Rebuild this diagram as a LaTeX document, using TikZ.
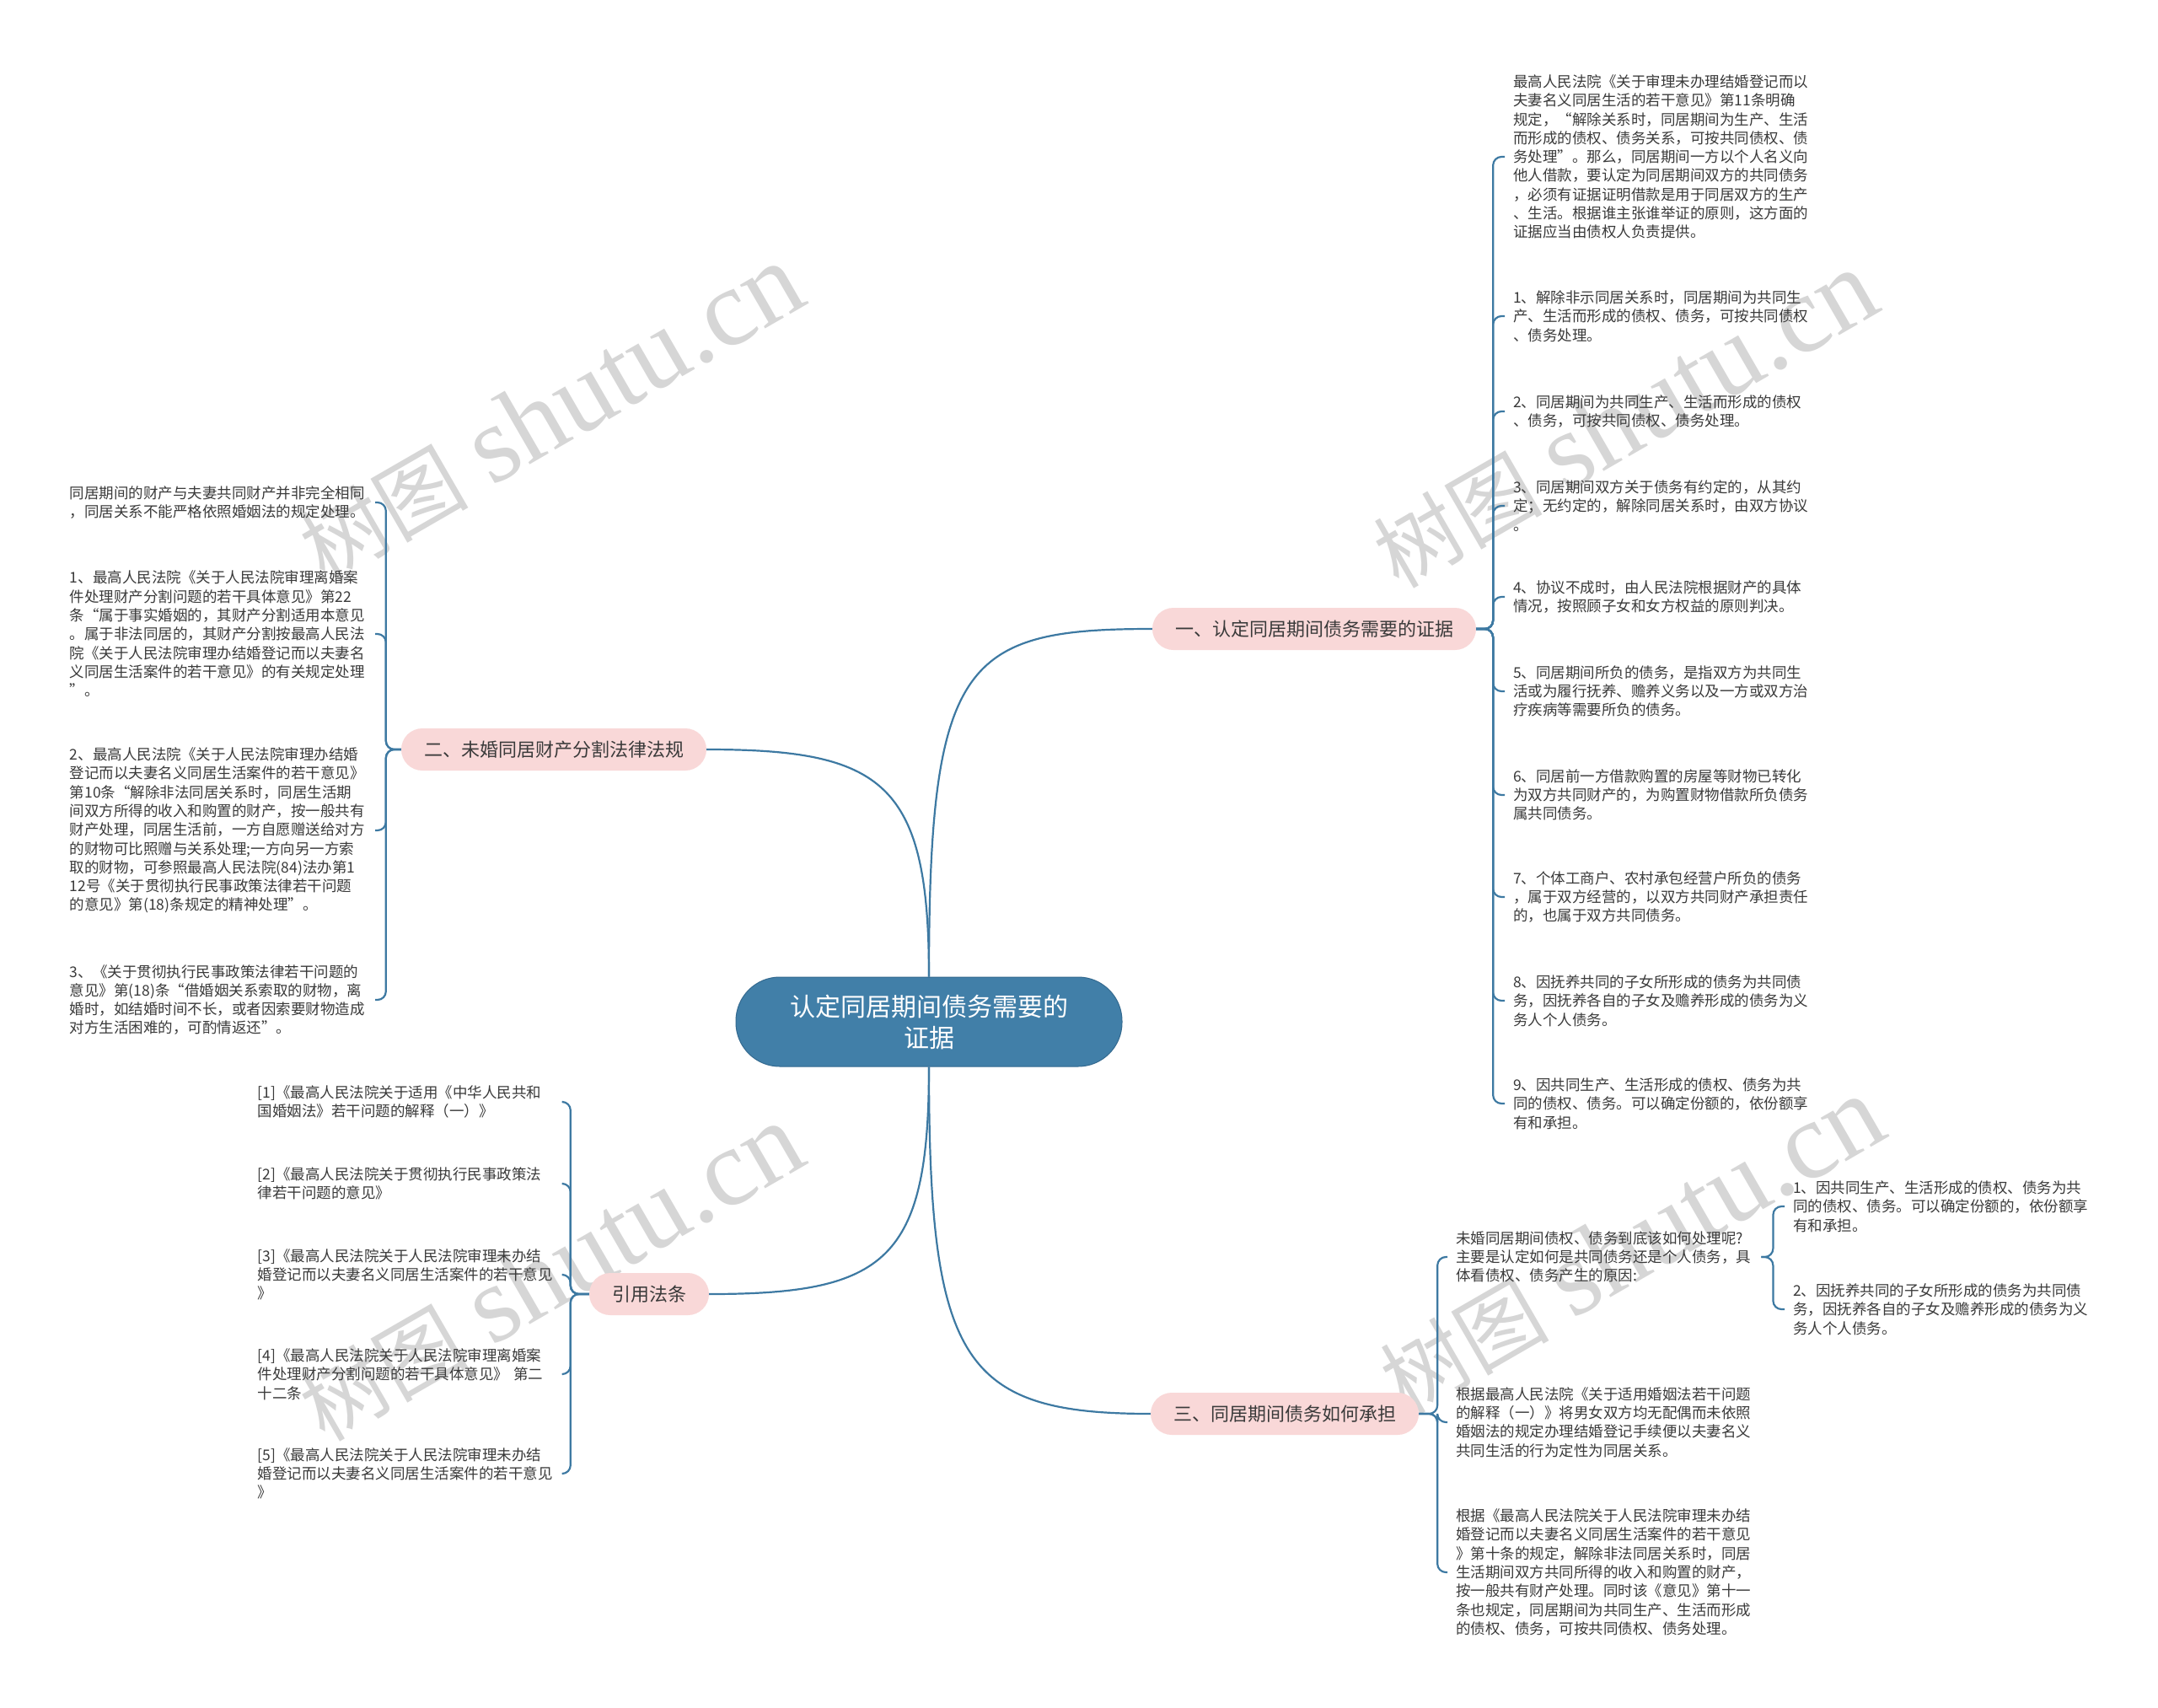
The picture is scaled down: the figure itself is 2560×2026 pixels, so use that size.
\documentclass[tikz,border=0pt]{standalone}
\usepackage{fontspec}
\setmainfont{Noto Sans CJK SC}
\newfontfamily\wmlatin{Liberation Serif}
\newfontfamily\wmcjk{Noto Sans CJK SC}
\definecolor{linec}{HTML}{3D79A2}
\definecolor{rootfill}{HTML}{417FA8}
\definecolor{rootdraw}{HTML}{33698F}
\definecolor{pinkfill}{HTML}{F9D8D8}
\definecolor{leaftext}{HTML}{3A3A3A}
\definecolor{wmgray}{HTML}{D6D6D6}
\newcommand{\wmtext}{{\wmcjk\fontsize{100}{110}\selectfont 树图}\hspace{28pt}{\wmlatin\fontsize{130}{140}\selectfont shutu.cn}}
\tikzset{
  conn/.style={draw=linec, line width=2.2pt, rounded corners=10pt},
  rootnode/.style={fill=rootfill, draw=rootdraw, line width=1pt, rounded corners=52pt,
    minimum width=458pt, minimum height=106pt, text=white,
    font=\fontsize{30}{37}\selectfont, align=center},
  branchnode/.style={fill=pinkfill, draw=none, rounded corners=25pt, minimum height=50pt,
    inner xsep=27pt, text=leaftext, font=\fontsize{22}{26}\selectfont},
  leafnode/.style={text=leaftext, font=\fontsize{17.5}{22.3}\selectfont, align=left,
    text width=352pt, inner xsep=10pt, inner ysep=3pt},
  wmark/.style={text=wmgray, rotate=30, inner sep=0pt}
}
\begin{document}
\begin{tikzpicture}[x=1pt,y=-1pt]
\useasboundingbox[fill=white] (0,0) rectangle (2560,2026);

% watermarks
\node[wmark] (wm1) at (653,490) {\wmtext};
\node[wmark] (wm2) at (1927,498) {\wmtext};
\node[wmark] (wm3) at (653,1510) {\wmtext};
\node[wmark] (wm4) at (1935,1478) {\wmtext};

% root and branches
\node[rootnode] (root) at (1102,1212) {认定同居期间债务需要的\\证据};
\node[branchnode] (br1) at (1559,746) {一、认定同居期间债务需要的证据};
\node[branchnode] (br2) at (657,889) {二、未婚同居财产分割法律法规};
\node[branchnode] (br3) at (770,1535) {引用法条};
\node[branchnode] (br4) at (1524,1677) {三、同居期间债务如何承担};

\draw[conn] (root.north) .. controls +(0,-375) and +(-223,0) .. (br1.west);
\draw[conn] (root.north) .. controls +(0,-230) and +(210,0) .. (br2.east);
\draw[conn] (root.south) .. controls +(0,230) and +(210,0) .. (br3.east);
\draw[conn] (root.south) .. controls +(0,350) and +(-223,0) .. (br4.west);

% branch 1 children
\node[leafnode, anchor=west] (r0) at (1785,186) {最高人民法院《关于审理未办理结婚登记而以\\夫妻名义同居生活的若干意见》第11条明确\\规定，“解除关系时，同居期间为生产、生活\\而形成的债权、债务关系，可按共同债权、债\\务处理”。那么，同居期间一方以个人名义向\\他人借款，要认定为同居期间双方的共同债务\\，必须有证据证明借款是用于同居双方的生产\\、生活。根据谁主张谁举证的原则，这方面的\\证据应当由债权人负责提供。};
\node[leafnode, anchor=west] (r1) at (1785,375) {1、解除非示同居关系时，同居期间为共同生\\产、生活而形成的债权、债务，可按共同债权\\、债务处理。};
\node[leafnode, anchor=west] (r2) at (1785,488) {2、同居期间为共同生产、生活而形成的债权\\、债务，可按共同债权、债务处理。};
\node[leafnode, anchor=west] (r3) at (1785,600) {3、同居期间双方关于债务有约定的，从其约\\定；无约定的，解除同居关系时，由双方协议\\。};
\node[leafnode, anchor=west] (r4) at (1785,708) {4、协议不成时，由人民法院根据财产的具体\\情况，按照顾子女和女方权益的原则判决。};
\node[leafnode, anchor=west] (r5) at (1785,820) {5、同居期间所负的债务，是指双方为共同生\\活或为履行抚养、赡养义务以及一方或双方治\\疗疾病等需要所负的债务。};
\node[leafnode, anchor=west] (r6) at (1785,943) {6、同居前一方借款购置的房屋等财物已转化\\为双方共同财产的，为购置财物借款所负债务\\属共同债务。};
\node[leafnode, anchor=west] (r7) at (1785,1064) {7、个体工商户、农村承包经营户所负的债务\\，属于双方经营的，以双方共同财产承担责任\\的，也属于双方共同债务。};
\node[leafnode, anchor=west] (r8) at (1785,1187) {8、因抚养共同的子女所形成的债务为共同债\\务，因抚养各自的子女及赡养形成的债务为义\\务人个人债务。};
\node[leafnode, anchor=west] (r9) at (1785,1309) {9、因共同生产、生活形成的债权、债务为共\\同的债权、债务。可以确定份额的，依份额享\\有和承担。};
\foreach \n in {r0,r1,r2,r3,r4,r5,r6,r7,r8,r9}
  \draw[conn] (br1.east) -- ++(20,0) |- (\n.west);

% branch 2 children
\node[leafnode, anchor=east] (l0) at (445,596) {同居期间的财产与夫妻共同财产并非完全相同\\，同居关系不能严格依照婚姻法的规定处理。};
\node[leafnode, anchor=east] (l1) at (445,752) {1、最高人民法院《关于人民法院审理离婚案\\件处理财产分割问题的若干具体意见》第22\\条“属于事实婚姻的，其财产分割适用本意见\\。属于非法同居的，其财产分割按最高人民法\\院《关于人民法院审理办结婚登记而以夫妻名\\义同居生活案件的若干意见》的有关规定处理\\”。};
\node[leafnode, anchor=east] (l2) at (445,985) {2、最高人民法院《关于人民法院审理办结婚\\登记而以夫妻名义同居生活案件的若干意见》\\第10条“解除非法同居关系时，同居生活期\\间双方所得的收入和购置的财产，按一般共有\\财产处理，同居生活前，一方自愿赠送给对方\\的财物可比照赠与关系处理;一方向另一方索\\取的财物，可参照最高人民法院(84)法办第1\\12号《关于贯彻执行民事政策法律若干问题\\的意见》第(18)条规定的精神处理”。};
\node[leafnode, anchor=east] (l3) at (445,1186) {3、《关于贯彻执行民事政策法律若干问题的\\意见》第(18)条“借婚姻关系索取的财物，离\\婚时，如结婚时间不长，或者因索要财物造成\\对方生活困难的，可酌情返还”。};
\foreach \n in {l0,l1,l2,l3}
  \draw[conn] (br2.west) -- ++(-18,0) |- (\n.east);

% citations
\node[leafnode, anchor=east] (c1) at (668,1307) {[1]《最高人民法院关于适用《中华人民共和\\国婚姻法》若干问题的解释（一）》};
\node[leafnode, anchor=east] (c2) at (668,1404) {[2]《最高人民法院关于贯彻执行民事政策法\\律若干问题的意见》};
\node[leafnode, anchor=east] (c3) at (668,1512) {[3]《最高人民法院关于人民法院审理未办结\\婚登记而以夫妻名义同居生活案件的若干意见\\》};
\node[leafnode, anchor=east] (c4) at (668,1630) {[4]《最高人民法院关于人民法院审理离婚案\\件处理财产分割问题的若干具体意见》 第二\\十二条};
\node[leafnode, anchor=east] (c5) at (668,1748) {[5]《最高人民法院关于人民法院审理未办结\\婚登记而以夫妻名义同居生活案件的若干意见\\》};
\foreach \n in {c1,c2,c3,c4,c5}
  \draw[conn] (br3.west) -- ++(-22,0) |- (\n.east);

% branch 4 children
\node[leafnode, anchor=west] (s0) at (1717,1491) {未婚同居期间债权、债务到底该如何处理呢?\\主要是认定如何是共同债务还是个人债务，具\\体看债权、债务产生的原因:};
\node[leafnode, anchor=west] (s1) at (1717,1687) {根据最高人民法院《关于适用婚姻法若干问题\\的解释（一）》将男女双方均无配偶而未依照\\婚姻法的规定办理结婚登记手续便以夫妻名义\\共同生活的行为定性为同居关系。};
\node[leafnode, anchor=west] (s2) at (1717,1865) {根据《最高人民法院关于人民法院审理未办结\\婚登记而以夫妻名义同居生活案件的若干意见\\》第十条的规定，解除非法同居关系时，同居\\生活期间双方共同所得的收入和购置的财产，\\按一般共有财产处理。同时该《意见》第十一\\条也规定，同居期间为共同生产、生活而形成\\的债权、债务，可按共同债权、债务处理。};
\foreach \n in {s0,s1,s2}
  \draw[conn] (br4.east) -- ++(22,0) |- (\n.west);

\node[leafnode, anchor=west] (t1) at (2117,1431) {1、因共同生产、生活形成的债权、债务为共\\同的债权、债务。可以确定份额的，依份额享\\有和承担。};
\node[leafnode, anchor=west] (t2) at (2117,1553) {2、因抚养共同的子女所形成的债务为共同债\\务，因抚养各自的子女及赡养形成的债务为义\\务人个人债务。};
\foreach \n in {t1,t2}
  \draw[conn] (s0.east) -- ++(14,0) |- (\n.west);
\end{tikzpicture}
\end{document}
